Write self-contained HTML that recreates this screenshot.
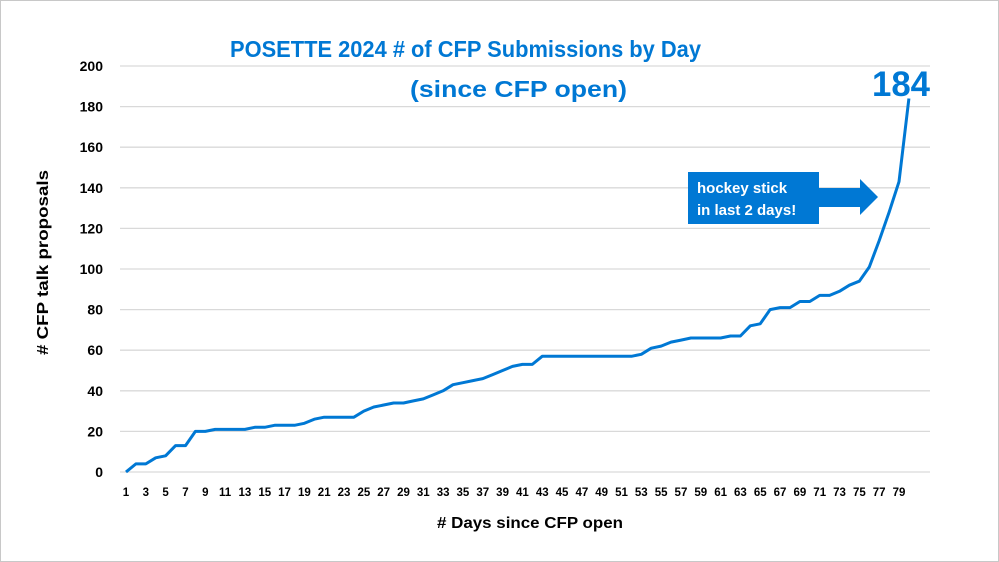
<!DOCTYPE html>
<html><head><meta charset="utf-8"><style>
html,body{margin:0;padding:0;background:#fff}
svg{display:block}
text{font-family:"Liberation Sans",sans-serif}
</style></head><body>
<svg id="s" width="999" height="562" viewBox="0 0 999 562" xmlns="http://www.w3.org/2000/svg">
<rect x="0.5" y="0.5" width="998" height="561" fill="#fff" stroke="#c8c8c8"/>
<g id="grid" stroke="#d9d9d9" stroke-width="1.3"></g>
<g id="ylab" font-size="14" font-weight="bold" fill="#000" text-anchor="end"></g>
<g id="xlab" font-size="11.5" font-weight="bold" fill="#000" text-anchor="middle"></g>
<polyline id="line" fill="none" stroke="#0078d4" stroke-width="3" stroke-linejoin="round"/>
<text x="230" y="57" font-size="23" font-weight="bold" fill="#0078d4" textLength="471" lengthAdjust="spacingAndGlyphs">POSETTE 2024 # of CFP Submissions by Day</text>
<text x="410" y="97" font-size="23" font-weight="bold" fill="#0078d4" textLength="217" lengthAdjust="spacingAndGlyphs">(since CFP open)</text>
<text x="872" y="96" font-size="35" font-weight="bold" fill="#0078d4" textLength="58" lengthAdjust="spacingAndGlyphs">184</text>
<rect x="688" y="172" width="131" height="52" fill="#0078d4"/>
<polygon points="818,188 860,188 860,179 878,197 860,215 860,207 818,207" fill="#0078d4"/>
<text x="697" y="193" font-size="15" font-weight="bold" fill="#fff">hockey stick</text>
<text x="697" y="215" font-size="15" font-weight="bold" fill="#fff">in last 2 days!</text>
<text x="437" y="528" font-size="16" font-weight="bold" fill="#000" textLength="186" lengthAdjust="spacingAndGlyphs"># Days since CFP open</text>
<text transform="translate(48,355) rotate(-90)" font-size="16" font-weight="bold" fill="#000" textLength="185" lengthAdjust="spacingAndGlyphs"># CFP talk proposals</text>
</svg>
<script>
var d=[0,4,4,7,8,13,13,20,20,21,21,21,21,22,22,23,23,23,24,26,27,27,27,27,30,32,33,34,34,35,36,38,40,43,44,45,46,48,50,52,53,53,57,57,57,57,57,57,57,57,57,57,58,61,62,64,65,66,66,66,66,67,67,72,73,80,81,81,84,84,87,87,89,92,94,101,114,128,143,184];
function X(i){return 126+(i-1)*9.91}
function Y(v){return 472-v*2.03}
var ns="http://www.w3.org/2000/svg";
var g=document.getElementById('grid'),yl=document.getElementById('ylab'),xl=document.getElementById('xlab');
for(var v=0;v<=200;v+=20){var l=document.createElementNS(ns,'line');l.setAttribute('x1',120);l.setAttribute('x2',930);l.setAttribute('y1',Y(v));l.setAttribute('y2',Y(v));g.appendChild(l);
var t=document.createElementNS(ns,'text');t.setAttribute('x',103);t.setAttribute('y',Y(v)+5);t.textContent=v;yl.appendChild(t);}
for(var i=1;i<=79;i+=2){var t=document.createElementNS(ns,'text');t.setAttribute('x',X(i));t.setAttribute('y',496);t.textContent=i;xl.appendChild(t);}
var p=d.map(function(v,k){return X(k+1).toFixed(1)+','+Y(v).toFixed(1)}).join(' ');
document.getElementById('line').setAttribute('points',p);
</script>
</body></html>
